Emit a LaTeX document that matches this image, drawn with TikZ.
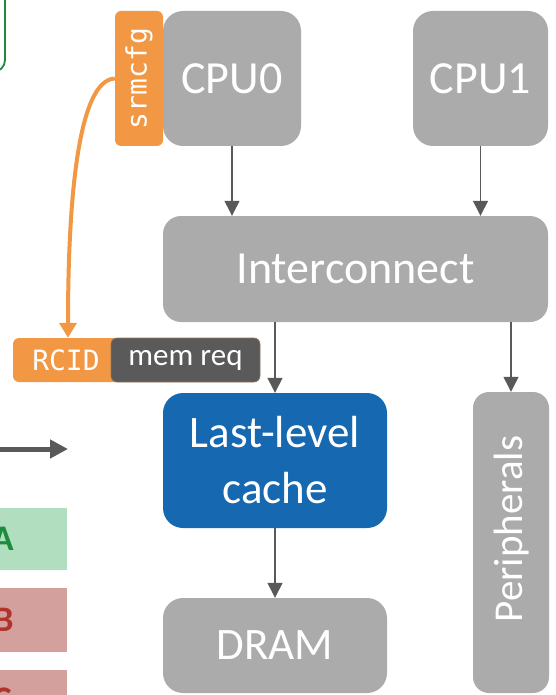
\documentclass[tikz,border=0pt]{standalone}
\usepackage{fontspec}
\setmainfont{Carlito}
\setmonofont{DejaVu Sans Mono}
\usetikzlibrary{arrows.meta}
\definecolor{boxgray}{HTML}{ABABAB}
\definecolor{llcblue}{HTML}{1668B0}
\definecolor{orng}{HTML}{F29743}
\definecolor{dgray}{HTML}{5A5A5A}
\definecolor{arrgray}{HTML}{595959}
\definecolor{grn}{HTML}{1E8C3E}
\definecolor{grnfill}{HTML}{B2DEC0}
\definecolor{redfill}{HTML}{D4A09D}
\definecolor{redtxt}{HTML}{B0342C}
\definecolor{memedge}{HTML}{8A7560}
\tikzset{
  blk/.style={rectangle, rounded corners=20pt, fill=boxgray, text=white, inner sep=0pt,
    font=\fontsize{46}{50}\selectfont},
  thinarr/.style={draw=arrgray, line width=1.3pt, -{Triangle[width=15pt,length=15pt]}},
  tag/.style={rectangle, rounded corners=6pt, inner sep=0pt, text=white, minimum height=44pt},
  legend/.style={rectangle, inner sep=0pt, minimum width=67pt},
  monotxt/.style={text=white, inner sep=0pt, font=\ttfamily\fontsize{28}{32}\selectfont},
}
\begin{document}
\begin{tikzpicture}[x=1pt,y=-1pt]
\useasboundingbox (0,0) rectangle (556,695);
\clip (0,0) rectangle (556,695);

% partially visible green box at top left
\draw[grn, line width=1.8pt, rounded corners=12pt] (-60,-30) rectangle (5,72);

% legend boxes at left
\node[legend, fill=grnfill, minimum height=62pt] (la) at (33.5,539) {};
\node[legend, fill=redfill, minimum height=64pt] (lb) at (33.5,620) {};
\node[legend, fill=redfill, minimum height=40pt] (lc) at (33.5,690) {};
\node[anchor=east, text=grn, font=\fontsize{36}{40}\selectfont\bfseries, inner sep=0pt] (ta) at (la.west) [xshift=14pt] {A};
\node[anchor=east, text=redtxt, font=\fontsize{36}{40}\selectfont\bfseries, inner sep=0pt] (tb) at (lb.west) [xshift=14pt] {B};
\node[anchor=north east, text=redtxt, font=\fontsize{36}{40}\selectfont\bfseries, inner sep=0pt] (tc) at (0,688) [xshift=12pt] {C};

% thick grey arrow at left
\coordinate (garrs) at (-5,449);
\coordinate (garre) at (68,449);
\draw[arrgray, line width=5pt, -{Triangle[width=18pt,length=18pt]}] (garrs) -- (garre);

% main blocks
\node[blk, minimum width=138pt, minimum height=135pt] (cpu0) at (232,78.5) {CPU0};
\node[blk, minimum width=135pt, minimum height=135pt] (cpu1) at (480.5,78.5) {CPU1};
\node[blk, minimum width=385pt, minimum height=106pt, rounded corners=18pt] (ic) at (355.5,269) {Interconnect};
\node[blk, fill=llcblue, minimum width=224pt, minimum height=135pt, align=center,
      font=\fontsize{45}{56}\selectfont] (llc) at (275,460.5) {Last-level\\cache};
\node[blk, minimum width=224pt, minimum height=95pt, font=\fontsize{45}{50}\selectfont] (dram) at (275,645.5) {DRAM};
\node[blk, minimum width=76pt, minimum height=301pt, rounded corners=16pt] (per) at (511,542.5) {};
\node[rotate=90, text=white, inner sep=0pt, font=\fontsize{41}{45}\selectfont] (pertxt) at (512,529) {Peripherals};

% srmcfg tag
\node[tag, fill=orng, minimum width=48pt, minimum height=135pt] (srm) at (139,78.5) {};
\node[monotxt, rotate=90] (srmtxt) at (139,78.5) {srmcfg};

% RCID / mem req
\node[tag, fill=orng, minimum width=110pt] (rcid) at (68,360) {};
\node[monotxt] (rcidtxt) at (66,360) {RCID};
\node[tag, fill=dgray, draw=memedge, line width=0.6pt, minimum width=149pt,
      font=\fontsize{31}{35}\selectfont] (mem) at (185.5,360) {mem req};

% connectors
\draw[thinarr] (cpu0.south) -- (cpu0.south |- ic.north);
\draw[thinarr] (cpu1.south) -- (cpu1.south |- ic.north);
\draw[thinarr] (llc.north |- ic.south) -- (llc.north);
\draw[thinarr] (per.north |- ic.south) -- (per.north);
\draw[thinarr] (llc.south) -- (dram.north);

% orange curve
\draw[orng, line width=4pt, -{Triangle[width=17pt,length=15pt]}]
  (srm.west) .. controls (78,80) and (68,200) .. (rcid.north);
\end{tikzpicture}
\end{document}
